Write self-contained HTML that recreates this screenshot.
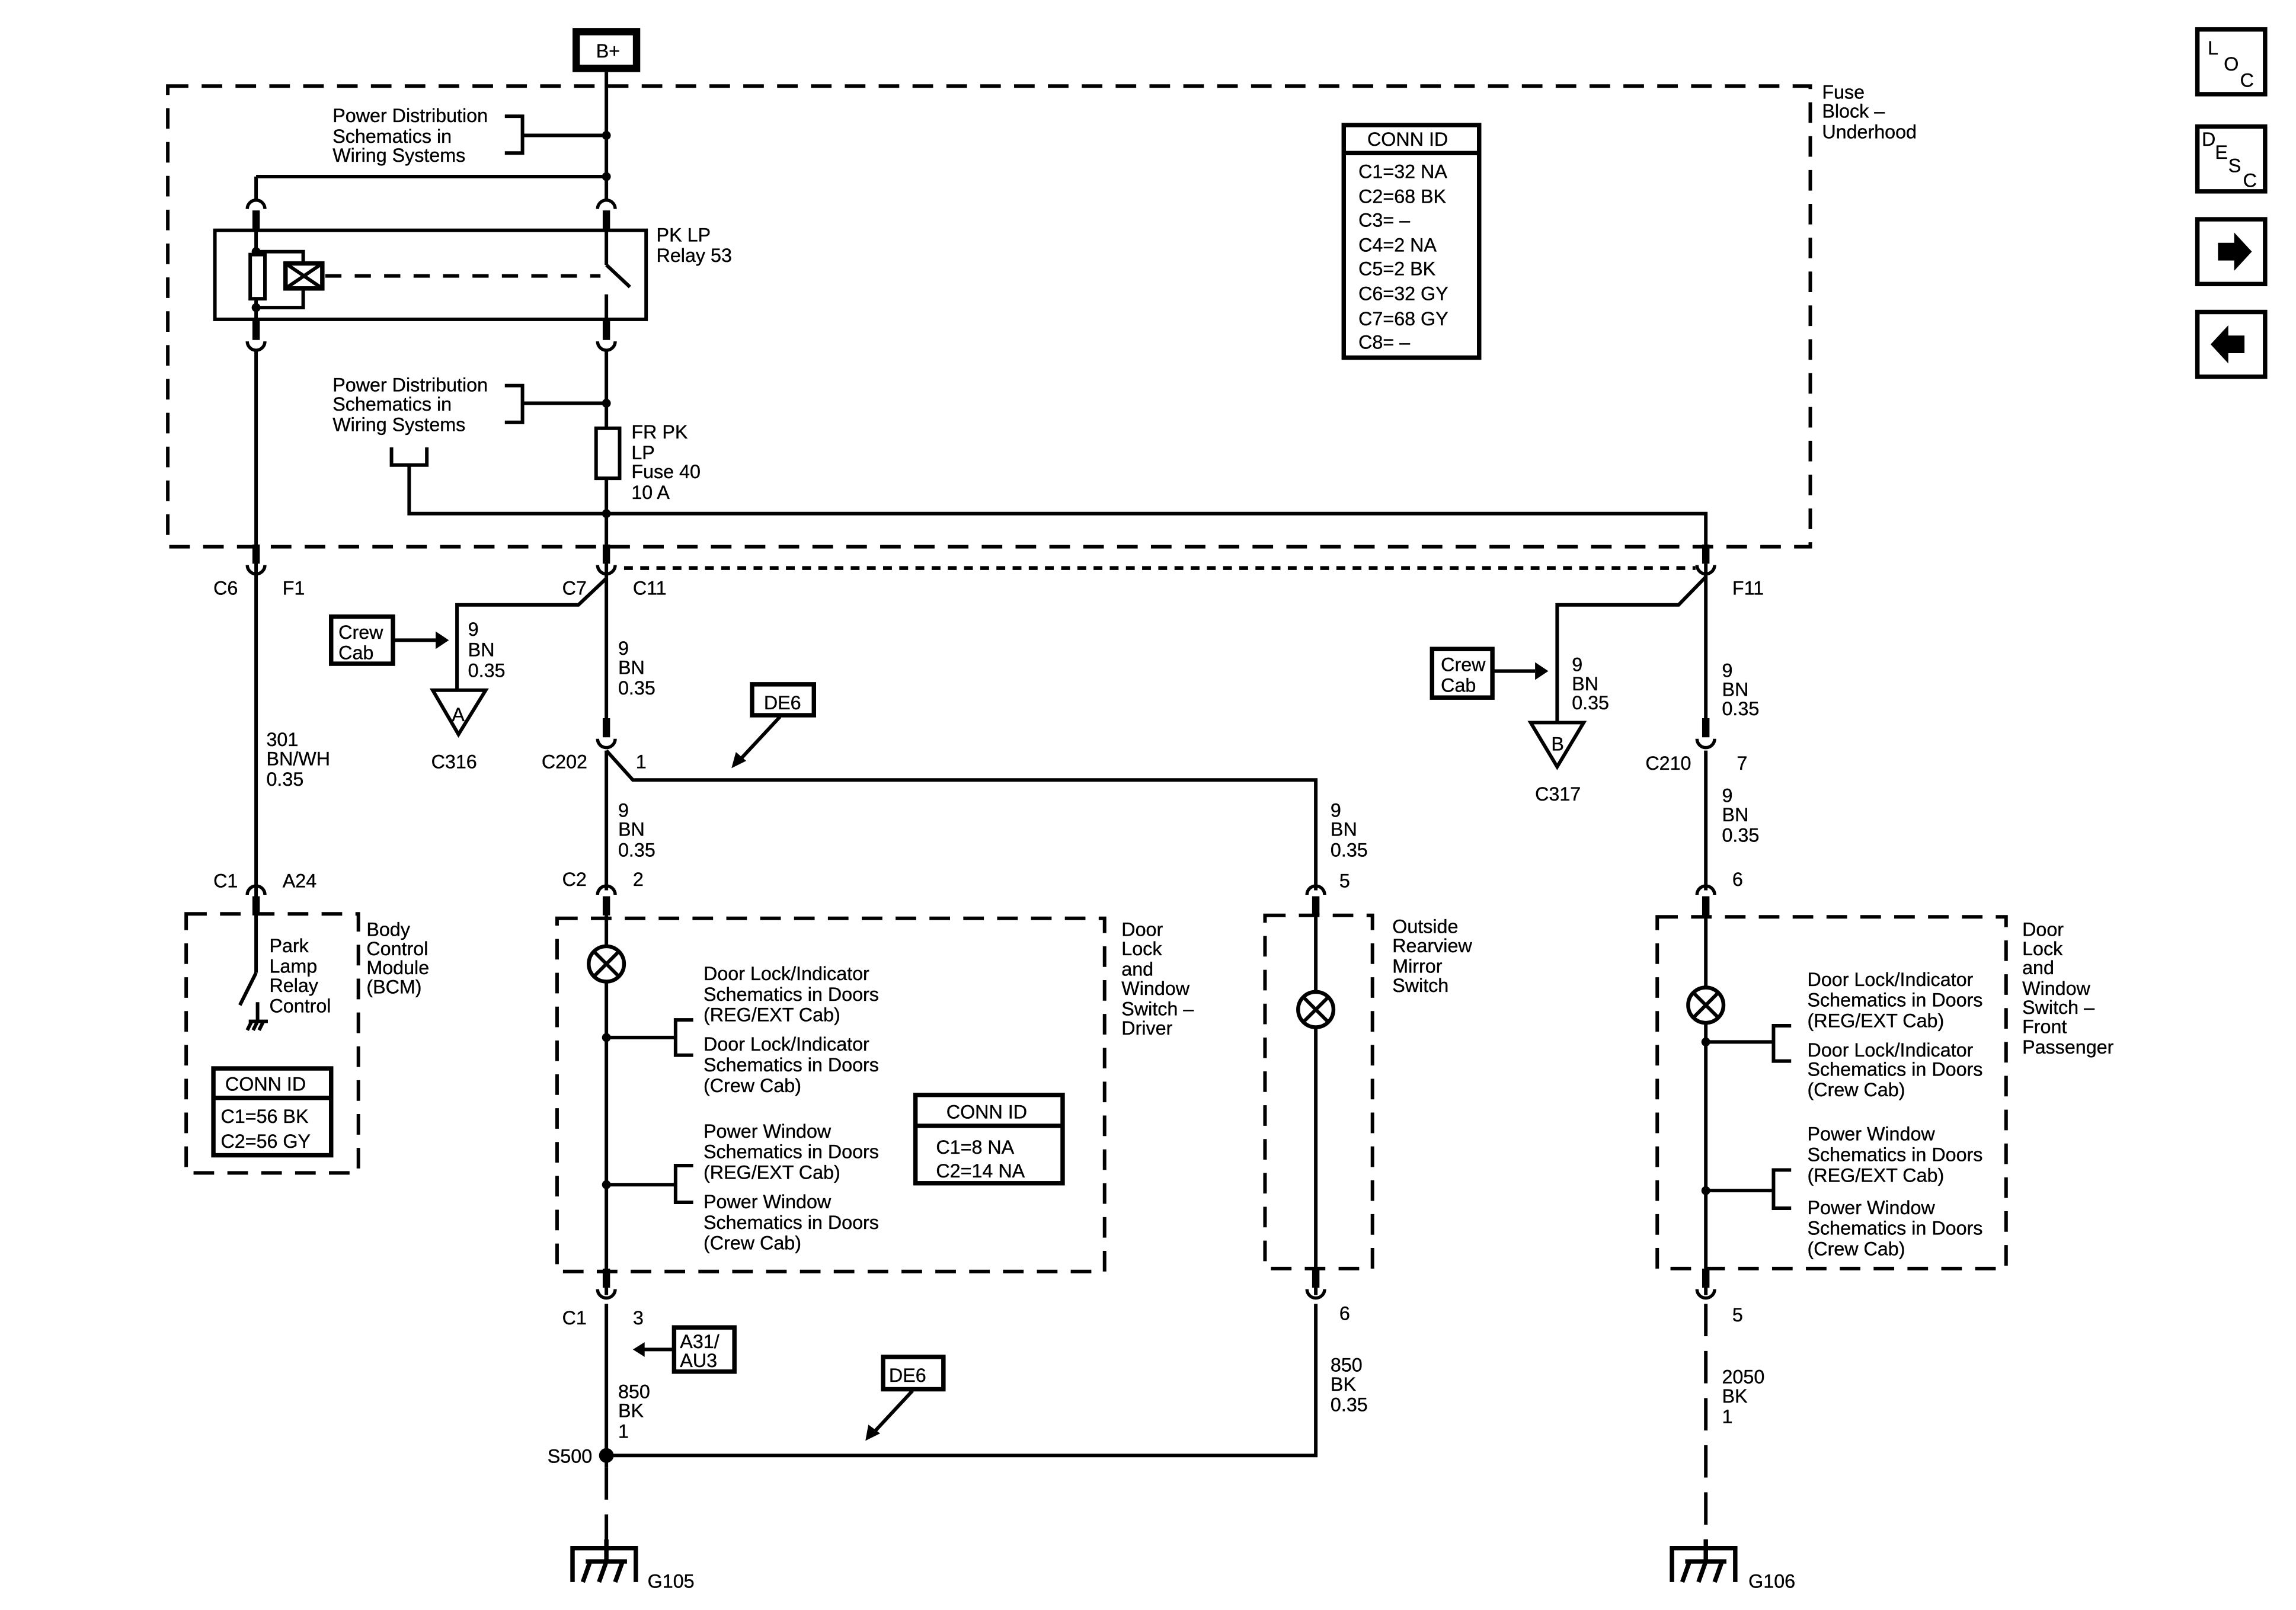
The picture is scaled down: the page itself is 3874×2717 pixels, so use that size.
<!DOCTYPE html>
<html><head><meta charset="utf-8"><style>
html,body{margin:0;padding:0;background:#fff}
svg{display:block}
text{font-family:"Liberation Sans",Arial,sans-serif;font-size:13px;fill:#000;stroke:#000;stroke-width:0.15}
</style></head><body>
<svg width="3874" height="2717" viewBox="0 0 1560 1094" preserveAspectRatio="none" xmlns="http://www.w3.org/2000/svg">
<defs>
<g id="cu"><line x1="0" y1="-13" x2="0" y2="0" stroke="#000" stroke-width="5"/><path d="M-6,1 A6,6 0 0 0 6,1" fill="none" stroke="#000" stroke-width="2.2"/></g>
<g id="cn"><path d="M-6,0 A6,6 0 0 1 6,0" fill="none" stroke="#000" stroke-width="2.2"/><line x1="0" y1="1" x2="0" y2="14" stroke="#000" stroke-width="5"/></g>
</defs>
<rect width="1560" height="1094" fill="#fff"/>
<g fill="none" stroke="#000" stroke-width="2.4">
<rect x="114" y="58.5" width="1116" height="313" stroke-dasharray="14 9"/>
<rect x="391.5" y="21.5" width="41" height="25" stroke-width="5"/>
<line x1="412" y1="49" x2="412" y2="136"/>
<line x1="355" y1="92" x2="412" y2="92"/>
<path d="M343,79 H355 V104 H343"/>
<line x1="174" y1="120" x2="412" y2="120"/>
<line x1="174" y1="120" x2="174" y2="136"/>
<rect x="146" y="156.5" width="293" height="60.5"/>
<line x1="174" y1="156" x2="174" y2="218"/>
<rect x="170" y="173" width="10" height="30" fill="#fff"/>
<path d="M174,171 H206 V179 M206,196 V209 H174"/>
<rect x="194" y="179" width="25" height="17" stroke-width="3"/>
<path d="M194,179 L219,196 M219,179 L194,196"/>
<line x1="221" y1="187.5" x2="408" y2="187.5" stroke-dasharray="11 9"/>
<line x1="412" y1="156" x2="412" y2="180"/>
<line x1="412" y1="180" x2="428" y2="195"/>
<line x1="412" y1="200" x2="412" y2="218"/>
<line x1="174" y1="238" x2="174" y2="612"/>
<line x1="412" y1="238" x2="412" y2="500"/>
<line x1="355" y1="274" x2="412" y2="274"/>
<path d="M343,262 H355 V287 H343"/>
<rect x="405" y="291" width="16" height="34" fill="#fff"/>
<path d="M266,304 V316 H290 V304"/>
<path d="M278,316 V349 H1159 V383"/>
<line x1="1159" y1="383" x2="1159" y2="500"/>
<line x1="424" y1="386" x2="1152" y2="386" stroke-dasharray="6 5" stroke-width="2.6"/>
<path d="M412,393 L393,411 H310.5 V468"/>
<path d="M294,469 H330 L311.5,499 Z"/>
<rect x="225" y="419" width="42" height="32" stroke-width="3"/>
<line x1="267" y1="435" x2="296" y2="435"/>
<path d="M1159,392 L1140.5,411 H1058 V490"/>
<path d="M1040,491 H1076 L1058,521 Z"/>
<rect x="973" y="441" width="41" height="33" stroke-width="3"/>
<line x1="1014" y1="456" x2="1043" y2="456"/>
<path d="M412,510 L430,530 H894 V605"/>
<line x1="412" y1="510" x2="412" y2="605"/>
<rect x="511" y="465" width="42" height="21" stroke-width="3"/>
<line x1="530" y1="487" x2="503" y2="516"/>
<line x1="1159" y1="510" x2="1159" y2="605"/>
<rect x="126.5" y="621" width="117" height="176" stroke-dasharray="14 9"/>
<line x1="174" y1="621" x2="174" y2="661"/>
<line x1="174" y1="661" x2="163" y2="683"/>
<line x1="175" y1="681" x2="175" y2="694"/>
<path d="M169,694 H182 M171,694 L168,700 M175,694 L172,700 M179,694 L176,700"/>
<rect x="145" y="726" width="80" height="59" stroke-width="3"/>
<line x1="145" y1="746" x2="225" y2="746" stroke-width="3"/>
<rect x="378.5" y="624" width="372" height="240" stroke-dasharray="14 9"/>
<line x1="412" y1="619" x2="412" y2="880"/>
<circle cx="412" cy="655" r="12" fill="#fff" stroke-width="2.6"/>
<path d="M403.5,646.5 L420.5,663.5 M420.5,646.5 L403.5,663.5"/>
<line x1="412" y1="705" x2="459" y2="705"/>
<path d="M471,693 H459 V717 H471"/>
<line x1="412" y1="805" x2="459" y2="805"/>
<path d="M471,792 H459 V817 H471"/>
<rect x="622" y="744" width="100" height="60" stroke-width="3"/>
<line x1="622" y1="765" x2="722" y2="765" stroke-width="3"/>
<rect x="859.5" y="622" width="73" height="240" stroke-dasharray="14 9"/>
<line x1="894" y1="619" x2="894" y2="880"/>
<circle cx="894" cy="686" r="12" fill="#fff" stroke-width="2.6"/>
<path d="M885.5,677.5 L902.5,694.5 M902.5,677.5 L885.5,694.5"/>
<rect x="1126" y="623" width="237" height="239" stroke-dasharray="14 9"/>
<line x1="1159" y1="619" x2="1159" y2="880"/>
<circle cx="1159" cy="683" r="12" fill="#fff" stroke-width="2.6"/>
<path d="M1150.5,674.5 L1167.5,691.5 M1167.5,674.5 L1150.5,691.5"/>
<line x1="1159" y1="708" x2="1205" y2="708"/>
<path d="M1217,697 H1205 V721 H1217"/>
<line x1="1159" y1="809" x2="1205" y2="809"/>
<path d="M1217,795 H1205 V821 H1217"/>
<line x1="412" y1="886" x2="412" y2="997"/>
<path d="M412,989 H894 V886"/>
<rect x="458" y="902" width="41" height="30" stroke-width="3"/>
<line x1="458" y1="917" x2="434" y2="917"/>
<rect x="600" y="922" width="41" height="22" stroke-width="3"/>
<line x1="620" y1="945" x2="594" y2="973"/>
<line x1="412" y1="997" x2="412" y2="1060" stroke-dasharray="22 10"/>
<line x1="1159" y1="886" x2="1159" y2="1060" stroke-dasharray="22 10"/>
<path d="M389,1075 V1052 H432 V1075 M412,1046 V1061 M398,1061 H426 M401,1061 L396,1075 M412,1061 L407,1075 M423,1061 L418,1075" stroke-width="3"/>
<path d="M1136,1075 V1052 H1179 V1075 M1159,1046 V1061 M1145,1061 H1173 M1148,1061 L1143,1075 M1159,1061 L1154,1075 M1170,1061 L1165,1075" stroke-width="3"/>
<rect x="913" y="85" width="92" height="158" stroke-width="3"/>
<line x1="913" y1="104" x2="1005" y2="104" stroke-width="3"/>
<rect x="1493" y="20" width="46" height="44" stroke-width="3"/>
<rect x="1493" y="86" width="46" height="44" stroke-width="3"/>
<rect x="1493" y="149" width="46" height="44" stroke-width="3"/>
<rect x="1493" y="212" width="46" height="44" stroke-width="3"/>
</g>
<g fill="#000">
<circle cx="412" cy="92" r="3"/><circle cx="412" cy="120" r="3"/>
<circle cx="174" cy="171" r="3"/><circle cx="174" cy="209" r="3"/>
<circle cx="412" cy="274" r="3"/><circle cx="412" cy="349" r="3"/>
<circle cx="412" cy="705" r="3"/><circle cx="412" cy="805" r="3"/>
<circle cx="1159" cy="708" r="3"/><circle cx="1159" cy="809" r="3"/>
<circle cx="412" cy="989" r="5"/>
<path d="M296,429 L305,435 L296,441 Z"/>
<path d="M1043,450 L1052,456 L1043,462 Z"/>
<path d="M497,522 L500,511 L507,517 Z"/>
<path d="M588,979 L590,968 L598,974 Z"/>
<path d="M430,917 L438,912 L438,922 Z"/>
<path d="M1507,165 H1518 V158 L1530,171 L1518,184 V177 H1507 Z"/>
<path d="M1525,228 H1514 V221 L1502,234 L1514,247 V240 H1525 Z"/>
</g>
<use href="#cn" x="174" y="142"/><use href="#cn" x="412" y="142"/>
<use href="#cu" x="174" y="231"/><use href="#cu" x="412" y="231"/>
<use href="#cu" x="174" y="383"/><use href="#cu" x="412" y="383"/><use href="#cu" x="1159" y="383"/>
<use href="#cu" x="412" y="501"/><use href="#cu" x="1159" y="501"/>
<use href="#cn" x="174" y="608"/><use href="#cn" x="412" y="608"/><use href="#cn" x="894" y="608"/><use href="#cn" x="1159" y="608"/>
<use href="#cu" x="412" y="875"/><use href="#cu" x="894" y="875"/><use href="#cu" x="1159" y="875"/>
<g>
<text x="405" y="39">B+</text>
<text x="1238" y="67">Fuse</text><text x="1238" y="80">Block –</text><text x="1238" y="94">Underhood</text>
<text x="226" y="83">Power Distribution</text><text x="226" y="97">Schematics in</text><text x="226" y="110">Wiring Systems</text>
<text x="446" y="164">PK LP</text><text x="446" y="178">Relay 53</text>
<text x="226" y="266">Power Distribution</text><text x="226" y="279">Schematics in</text><text x="226" y="293">Wiring Systems</text>
<text x="429" y="298">FR PK</text><text x="429" y="312">LP</text><text x="429" y="325">Fuse 40</text><text x="429" y="339">10 A</text>
<text x="929" y="99">CONN ID</text>
<text x="923" y="121">C1=32 NA</text><text x="923" y="138">C2=68 BK</text><text x="923" y="154">C3= –</text><text x="923" y="171">C4=2 NA</text><text x="923" y="187">C5=2 BK</text><text x="923" y="204">C6=32 GY</text><text x="923" y="221">C7=68 GY</text><text x="923" y="237">C8= –</text>
<text x="145" y="404">C6</text><text x="192" y="404">F1</text>
<text x="382" y="404">C7</text><text x="430" y="404">C11</text><text x="1177" y="404">F11</text>
<text x="230" y="434">Crew</text><text x="230" y="448">Cab</text>
<text x="318" y="432">9</text><text x="318" y="446">BN</text><text x="318" y="460">0.35</text>
<text x="307" y="490">A</text><text x="293" y="522">C316</text>
<text x="420" y="445">9</text><text x="420" y="458">BN</text><text x="420" y="472">0.35</text>
<text x="519" y="482">DE6</text>
<text x="368" y="522">C202</text><text x="432" y="522">1</text>
<text x="181" y="507">301</text><text x="181" y="520">BN/WH</text><text x="181" y="534">0.35</text>
<text x="420" y="555">9</text><text x="420" y="568">BN</text><text x="420" y="582">0.35</text>
<text x="904" y="555">9</text><text x="904" y="568">BN</text><text x="904" y="582">0.35</text>
<text x="979" y="456">Crew</text><text x="979" y="470">Cab</text>
<text x="1068" y="456">9</text><text x="1068" y="469">BN</text><text x="1068" y="482">0.35</text>
<text x="1054" y="510">B</text><text x="1043" y="544">C317</text>
<text x="1170" y="460">9</text><text x="1170" y="473">BN</text><text x="1170" y="486">0.35</text>
<text x="1118" y="523">C210</text><text x="1180" y="523">7</text>
<text x="1170" y="545">9</text><text x="1170" y="558">BN</text><text x="1170" y="572">0.35</text>
<text x="145" y="603">C1</text><text x="192" y="603">A24</text>
<text x="382" y="602">C2</text><text x="430" y="602">2</text>
<text x="910" y="603">5</text><text x="1177" y="602">6</text>
<text x="183" y="647">Park</text><text x="183" y="661">Lamp</text><text x="183" y="674">Relay</text><text x="183" y="688">Control</text>
<text x="249" y="636">Body</text><text x="249" y="649">Control</text><text x="249" y="662">Module</text><text x="249" y="675">(BCM)</text>
<text x="153" y="741">CONN ID</text><text x="150" y="763">C1=56 BK</text><text x="150" y="780">C2=56 GY</text>
<text x="762" y="636">Door</text><text x="762" y="649">Lock</text><text x="762" y="663">and</text><text x="762" y="676">Window</text><text x="762" y="690">Switch –</text><text x="762" y="703">Driver</text>
<text x="478" y="666">Door Lock/Indicator</text><text x="478" y="680">Schematics in Doors</text><text x="478" y="694">(REG/EXT Cab)</text>
<text x="478" y="714">Door Lock/Indicator</text><text x="478" y="728">Schematics in Doors</text><text x="478" y="742">(Crew Cab)</text>
<text x="478" y="773">Power Window</text><text x="478" y="787">Schematics in Doors</text><text x="478" y="801">(REG/EXT Cab)</text>
<text x="478" y="821">Power Window</text><text x="478" y="835">Schematics in Doors</text><text x="478" y="849">(Crew Cab)</text>
<text x="643" y="760">CONN ID</text><text x="636" y="784">C1=8 NA</text><text x="636" y="800">C2=14 NA</text>
<text x="946" y="634">Outside</text><text x="946" y="647">Rearview</text><text x="946" y="661">Mirror</text><text x="946" y="674">Switch</text>
<text x="1374" y="636">Door</text><text x="1374" y="649">Lock</text><text x="1374" y="662">and</text><text x="1374" y="676">Window</text><text x="1374" y="689">Switch –</text><text x="1374" y="702">Front</text><text x="1374" y="716">Passenger</text>
<text x="1228" y="670">Door Lock/Indicator</text><text x="1228" y="684">Schematics in Doors</text><text x="1228" y="698">(REG/EXT Cab)</text>
<text x="1228" y="718">Door Lock/Indicator</text><text x="1228" y="731">Schematics in Doors</text><text x="1228" y="745">(Crew Cab)</text>
<text x="1228" y="775">Power Window</text><text x="1228" y="789">Schematics in Doors</text><text x="1228" y="803">(REG/EXT Cab)</text>
<text x="1228" y="825">Power Window</text><text x="1228" y="839">Schematics in Doors</text><text x="1228" y="853">(Crew Cab)</text>
<text x="382" y="900">C1</text><text x="430" y="900">3</text>
<text x="910" y="897">6</text><text x="1177" y="898">5</text>
<text x="462" y="916">A31/</text><text x="462" y="929">AU3</text>
<text x="604" y="939">DE6</text>
<text x="420" y="950">850</text><text x="420" y="963">BK</text><text x="420" y="977">1</text>
<text x="904" y="932">850</text><text x="904" y="945">BK</text><text x="904" y="959">0.35</text>
<text x="1170" y="940">2050</text><text x="1170" y="953">BK</text><text x="1170" y="967">1</text>
<text x="372" y="994">S500</text>
<text x="440" y="1079">G105</text><text x="1188" y="1079">G106</text>
<text x="1500" y="37">L</text><text x="1511" y="48">O</text><text x="1522" y="59">C</text>
<text x="1496" y="99">D</text><text x="1505" y="108">E</text><text x="1514" y="117">S</text><text x="1524" y="127">C</text>
</g>
</svg>
</body></html>
